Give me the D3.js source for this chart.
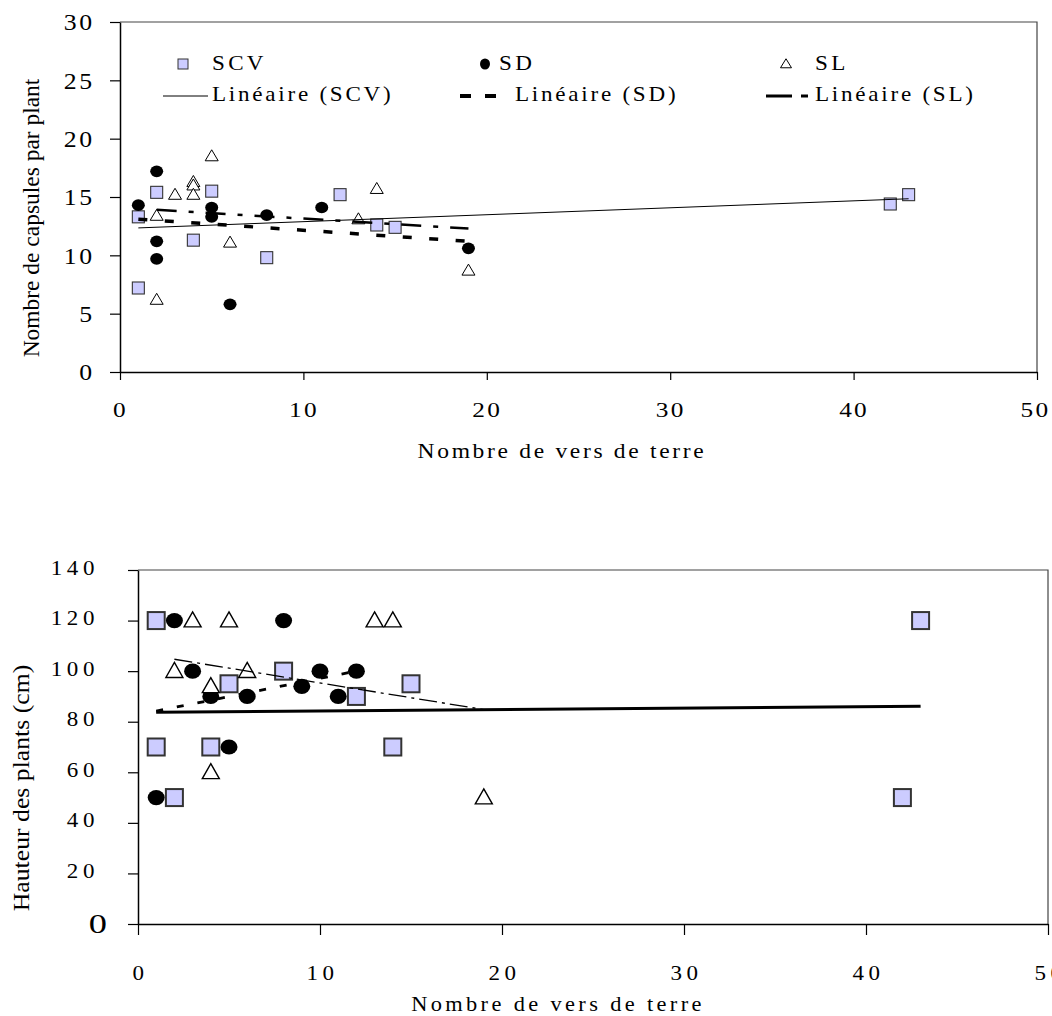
<!DOCTYPE html>
<html><head><meta charset="utf-8">
<script src="https://cdn.jsdelivr.net/npm/d3@7"></script>
<style>body{margin:0;background:#fff} text{font-family:"Liberation Serif","Times New Roman",serif;fill:#000}</style>
</head><body>
<svg id="c" width="1052" height="1016"></svg>
<script>
// ---------- DATA ----------
const xTicks = [0, 10, 20, 30, 40, 50];
const capsTicks = [0, 5, 10, 15, 20, 25, 30];
const hautTicks = [0, 20, 40, 60, 80, 100, 120, 140];
const seriesNames = ["SCV", "SD", "SL"];
const trendNames = ["Linéaire (SCV)", "Linéaire (SD)", "Linéaire (SL)"];

// Chart 1 : Nombre de capsules par plant
const capsSCV_x = [1, 1, 2, 4, 5, 8, 12, 14, 15, 42, 43];
const capsSCV_y = [13.3, 7.2, 15.4, 11.3, 15.5, 9.8, 15.2, 12.6, 12.4, 14.4, 15.2];
const capsSD_x = [1, 2, 2, 2, 5, 5, 6, 8, 11, 19];
const capsSD_y = [14.3, 17.2, 11.2, 9.7, 14.1, 13.3, 5.8, 13.45, 14.1, 10.6];
const capsSL_x = [2, 2, 3, 4, 4, 4, 5, 6, 13, 14, 19];
const capsSL_y = [13.4, 6.2, 15.2, 16.3, 16.0, 15.2, 18.5, 11.1, 13.1, 15.7, 8.7];
const capsTrendSCV_x = [1, 43], capsTrendSCV_y = [12.35, 14.85];
const capsTrendSD_x = [1, 19], capsTrendSD_y = [13.1, 11.2];
const capsTrendSL_x = [2, 19], capsTrendSL_y = [13.9, 12.3];

// Chart 2 : Hauteur des plants (cm)
const hautSCV_x = [1, 1, 2, 4, 5, 8, 12, 14, 15, 42, 43];
const hautSCV_y = [120, 70, 50, 70, 95, 100, 90, 70, 95, 50, 120];
const hautSD_x = [1, 2, 3, 4, 5, 6, 8, 9, 10, 11, 12];
const hautSD_y = [50, 120, 100, 90, 70, 90, 120, 94, 100, 90, 100];
const hautSL_x = [2, 3, 4, 4, 5, 6, 13, 14, 19];
const hautSL_y = [100, 120, 94, 60, 120, 100, 120, 120, 50];
const hautTrendSCV_x = [1, 43], hautTrendSCV_y = [83.7, 86.1];
const hautTrendSD_x = [1, 12], hautTrendSD_y = [84.2, 100];
const hautTrendSL_x = [2, 19], hautTrendSL_y = [104.7, 84.8];

// ---------- DRAW ----------
const svg = d3.select("#c");
svg.append("rect").attr("width", 1052).attr("height", 1016).attr("fill", "#fff");
const FONT = '"Liberation Serif","Times New Roman",serif';

function label(g, x, y, str, size, sx, anchor, rot, ls) {
  return g.append("text")
    .attr("transform", `translate(${x},${y})${rot ? ` rotate(${rot})` : ""} scale(${sx},1)`)
    .attr("text-anchor", anchor).attr("font-size", size).attr("font-family", FONT)
    .attr("letter-spacing", ls || 0).text(str);
}

function marker(g, type, cx, cy, s) {
  if (type === "SCV") {
    g.append("rect").attr("x", cx - s.sq / 2).attr("y", cy - s.sq / 2)
      .attr("width", s.sq).attr("height", s.sq)
      .attr("fill", "#ccccff").attr("stroke", "#333").attr("stroke-width", s.sqw);
  } else if (type === "SD") {
    g.append("ellipse").attr("cx", cx).attr("cy", cy).attr("rx", s.rx).attr("ry", s.ry).attr("fill", "#000");
  } else {
    const w = s.tw, h = s.th;
    g.append("path").attr("d", `M${cx},${cy - h * 0.58}L${cx + w / 2},${cy + h * 0.42}L${cx - w / 2},${cy + h * 0.42}Z`)
      .attr("fill", "#fff").attr("stroke", "#000").attr("stroke-width", s.tsw).attr("stroke-linejoin", "miter");
  }
}

function styleAxis(g) {
  g.attr("font-family", null).attr("font-size", null);
  g.select(".domain").attr("stroke", "#000").attr("stroke-width", 1.5);
  g.selectAll(".tick line").attr("stroke", "#000").attr("stroke-width", 1.2);
}

function trend(g, xs, ys, xv, yv, width, dash) {
  const line = d3.line().x(d => xs(d[0])).y(d => ys(d[1]));
  g.append("path").attr("d", line(d3.zip(xv, yv))).attr("fill", "none")
    .attr("stroke", "#000").attr("stroke-width", width).attr("stroke-dasharray", dash);
}

// ===== Chart 1 =====
(function () {
  const g = svg.append("g");
  const xs = d3.scaleLinear().domain([0, 50]).range([120, 1037]);
  const ys = d3.scaleLinear().domain([0, 30]).range([372, 22]);
  g.append("path").attr("d", `M${xs(0)},${ys(30)}H${xs(50)}V${ys(0)}`).attr("fill", "none").attr("stroke", "#444").attr("stroke-width", 1.2);
  const ya = g.append("g").attr("transform", `translate(${xs(0)},0)`)
    .call(d3.axisLeft(ys).tickValues(capsTicks).tickSize(10).tickSizeOuter(0));
  styleAxis(ya);
  ya.selectAll(".tick text").attr("x", null).attr("dy", "0.34em").attr("font-size", 23).attr("font-family", FONT)
    .attr("letter-spacing", 2.5).attr("transform", "translate(-25,0) scale(1.12,1)");
  const xa = g.append("g").attr("transform", `translate(0,${ys(0)})`)
    .call(d3.axisBottom(xs).tickValues(xTicks).tickSize(8).tickSizeOuter(0));
  styleAxis(xa);
  xa.selectAll(".tick text").attr("y", null).attr("dy", null).attr("font-size", 22).attr("font-family", FONT)
    .attr("letter-spacing", 2).attr("transform", "translate(0,44.5) scale(1.15,1)");
  xa.selectAll(".tick text").filter(d => d === 50).attr("transform", "translate(-2,44.5) scale(1.15,1)");

  label(g, 562, 458, "Nombre de vers de terre", 21, 1.12, "middle", 0, 2.4);
  label(g, 39, 218, "Nombre de capsules par plant", 23, 1.02, "middle", -90);

  const s = { sq: 12, sqw: 1.1, rx: 6.5, ry: 5.8, tw: 13, th: 11, tsw: 1 };
  const sets = [["SCV", capsSCV_x, capsSCV_y], ["SD", capsSD_x, capsSD_y], ["SL", capsSL_x, capsSL_y]];
  sets.forEach(([t, xv, yv]) => xv.forEach((x, i) => marker(g, t, xs(x), ys(yv[i]), s)));

  trend(g, xs, ys, capsTrendSCV_x, capsTrendSCV_y, 1, null);
  trend(g, xs, ys, capsTrendSD_x, capsTrendSD_y, 3.5, "9,17.5");
  trend(g, xs, ys, capsTrendSL_x, capsTrendSL_y, 2.5, "20,12,5,12");

  // legend
  const ls = { sq: 10, sqw: 1, rx: 5, ry: 5.5, tw: 11, th: 9, tsw: 1 };
  const lgX = [183, 485, 786], txX = [212, 499, 815];
  seriesNames.forEach((n, i) => {
    marker(g, n, lgX[i], 64, ls);
    label(g, txX[i], 70, n, 21, 1.1, "start", 0, 3);
  });
  const lnX = [[163, 208], [460, 505], [766, 812]], ltX = [212, 515, 815];
  const lw = [1, 4, 3], ld = [null, "11,14", "26,9,7,9"];
  trendNames.forEach((n, i) => {
    g.append("line").attr("x1", lnX[i][0]).attr("x2", lnX[i][1]).attr("y1", 96).attr("y2", 96)
      .attr("stroke", "#000").attr("stroke-width", lw[i]).attr("stroke-dasharray", ld[i]);
    label(g, ltX[i], 101, n, 21, 1.1, "start", 0, 2.5);
  });
})();

// ===== Chart 2 =====
(function () {
  const g = svg.append("g");
  const xs = d3.scaleLinear().domain([0, 50]).range([138, 1048]);
  const ys = d3.scaleLinear().domain([0, 140]).range([924, 570]);
  g.append("path").attr("d", `M${xs(0)},${ys(140)}H${xs(50)}V${ys(0)}`).attr("fill", "none").attr("stroke", "#444").attr("stroke-width", 1.2);
  const ya = g.append("g").attr("transform", `translate(${xs(0)},0)`)
    .call(d3.axisLeft(ys).tickValues(hautTicks).tickSize(10).tickSizeOuter(0));
  styleAxis(ya);
  ya.selectAll(".tick text").attr("x", null).attr("dy", "0.3em").attr("font-size", 20).attr("font-family", FONT)
    .attr("letter-spacing", 4).attr("transform", "translate(-39,-2) scale(1.15,1)");
  ya.selectAll(".tick text").filter(d => d === 0).attr("font-size", 28).attr("dy", "0.3em").attr("letter-spacing", 0)
    .attr("transform", "translate(-31,0) scale(1.3,1)");
  const xa = g.append("g").attr("transform", `translate(0,${ys(0)})`)
    .call(d3.axisBottom(xs).tickValues(xTicks).tickSize(11).tickSizeOuter(0));
  styleAxis(xa);
  xa.selectAll(".tick text").attr("y", null).attr("dy", null).attr("font-size", 20).attr("font-family", FONT)
    .attr("letter-spacing", 4).attr("transform", "translate(2,56) scale(1.15,1)");

  label(g, 558, 1011, "Nombre de vers de terre", 20, 1.12, "middle", 0, 3);
  label(g, 29, 788, "Hauteur des plants (cm)", 23, 1.12, "middle", -90);

  const s = { sq: 17, sqw: 2, rx: 8.5, ry: 7.6, tw: 17, th: 15, tsw: 1.4 };
  const sets = [["SCV", hautSCV_x, hautSCV_y], ["SD", hautSD_x, hautSD_y], ["SL", hautSL_x, hautSL_y]];
  sets.forEach(([t, xv, yv]) => xv.forEach((x, i) => marker(g, t, xs(x), ys(yv[i]), s)));

  trend(g, xs, ys, hautTrendSCV_x, hautTrendSCV_y, 3, null);
  trend(g, xs, ys, hautTrendSD_x, hautTrendSD_y, 2.8, "7,14");
  trend(g, xs, ys, hautTrendSL_x, hautTrendSL_y, 1.3, "18,5,3,5");
})();
</script>
</body></html>
